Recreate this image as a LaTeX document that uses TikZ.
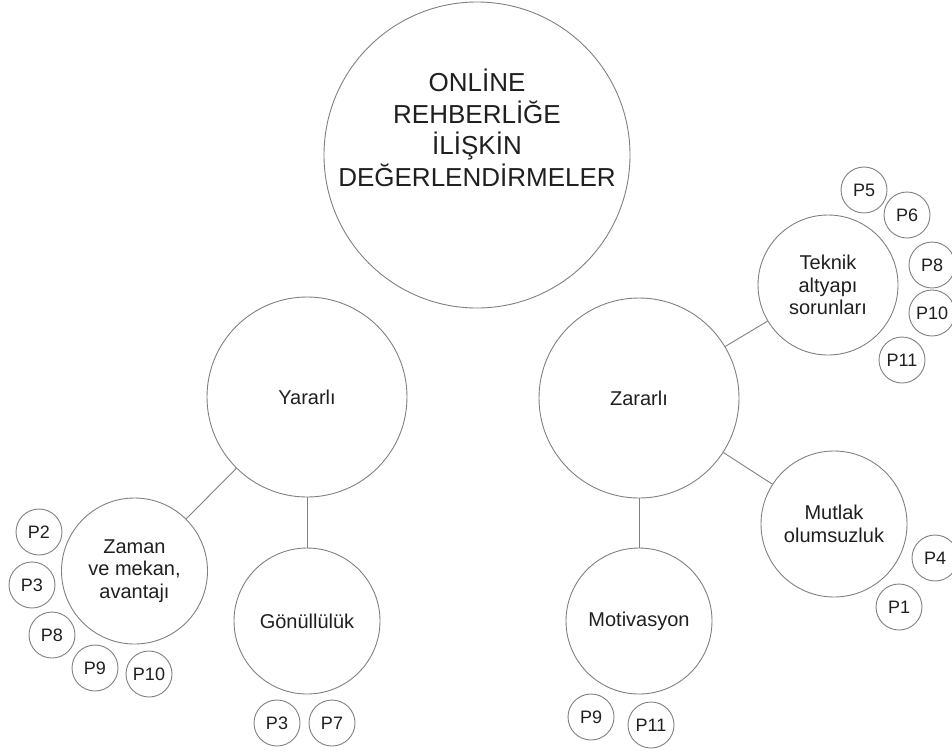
\documentclass[tikz,border=0pt]{standalone}
\usepackage{fontspec}
\setmainfont{Liberation Sans}
\definecolor{rim}{gray}{0.5}
\definecolor{ink}{gray}{0.12}
\begin{document}
\begin{tikzpicture}[x=1pt,y=-1pt,
    bub/.style={circle,draw=rim,line width=0.9pt,inner sep=0pt,text=ink,align=center,font=\fontsize{20}{22.5}\selectfont},
    pc/.style={circle,draw=rim,line width=0.9pt,inner sep=0pt,minimum size=46pt,text=ink,font=\fontsize{18}{20}\selectfont},
    link/.style={draw=rim,line width=0.9pt}]
    \useasboundingbox (0,0) rectangle (952,753);
    \node[bub,minimum size=306pt](top) at (477,155){};
    \node[text=ink,align=center,font=\fontsize{26}{31.5}\selectfont](toptext) at (477,128){ONLİNE\\REHBERLİĞE\\İLİŞKİN\\DEĞERLENDİRMELER};
    \node[bub,minimum size=200pt](yar) at (307,397){Yararlı};
    \node[bub,minimum size=200pt](zar) at (639,398){Zararlı};
    \node[bub,minimum size=146pt](zam) at (134.5,571){Zaman\\ve mekan,\\avantajı};
    \node[bub,minimum size=146pt](gon) at (307,621){Gönüllülük};
    \node[bub,minimum size=146pt](mot) at (639,621){Motivasyon};
    \node[bub,minimum size=140pt](tek) at (828,285){Teknik\\altyapı\\sorunları};
    \node[bub,minimum size=146pt](mut) at (834,524){Mutlak\\olumsuzluk};
    \draw[link](yar)--(zam);
    \draw[link](yar)--(gon);
    \draw[link](zar)--(mot);
    \draw[link](zar)--(tek);
    \draw[link](zar)--(mut);
    % katilimcilar
    \foreach \n/\t/\x/\y in {za/2/39/532,zb/3/32/585,zc/8/52/635,zd/9/95/668,ze/10/149/674,
        ga/3/277/723,gb/7/332/723,ma/9/591/717,mb/11/651/725,
        ta/5/864/190,tb/6/907/215,tc/8/932/265,td/10/932/313,te/11/902/360,
        ua/4/935/558,ub/1/899/607}
        \node[pc](\n) at (\x,\y){P\t};
\end{tikzpicture}
\end{document}
